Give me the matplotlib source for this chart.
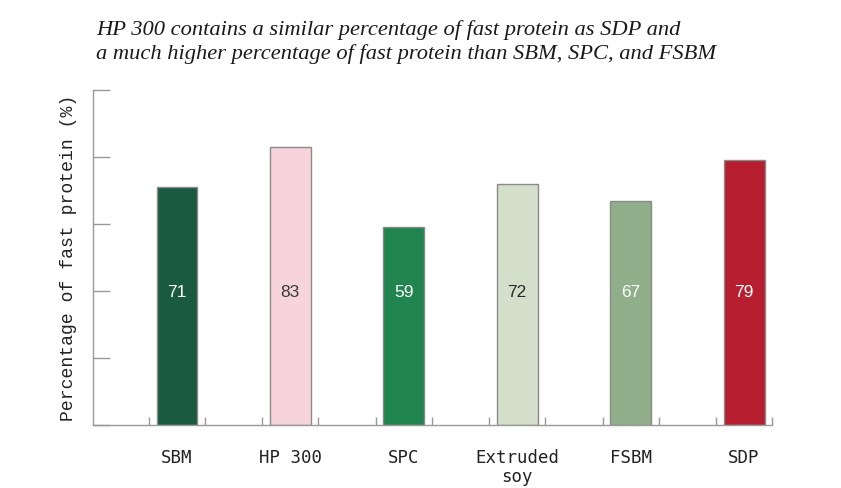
import numpy as np
import matplotlib.pyplot as plt

# data
categories = ['SBM', 'HP 300', 'SPC', 'Extruded\nsoy', 'FSBM', 'SDP']
values = [71, 83, 59, 72, 67, 79]
colors = ['#1a5a41', '#f7d4dc', '#21854f', '#d3dfca', '#8fae89', '#b71f30']
label_colors = ['white', '#3a3a3a', 'white', '#2a2a2a', 'white', 'white']

title = ('HP 300 contains a similar percentage of fast protein as SDP and\n'
         'a much higher percentage of fast protein than SBM, SPC, and FSBM')

fig = plt.figure(figsize=(8.41, 4.88), dpi=100)
ax = fig.add_axes([93/841, 63/488, (772-93)/841, (425-90)/488])

x = np.arange(len(categories))
ax.bar(x, values, width=0.36, color=colors, edgecolor='#8a8a8a', linewidth=1, zorder=2)

# value labels sit at the 40% level inside each bar
for xi, v, c in zip(x, values, label_colors):
    ax.text(xi, 39.5, str(v), ha='center', va='center', color=c,
            fontsize=12.5, family='Liberation Sans', zorder=3)

ax.set_xlim(-0.74, len(categories) - 1 + 0.246)
ax.set_ylim(0, 100)

ax.set_yticks(np.arange(0, 101, 20))
ax.set_yticklabels([])
ax.tick_params(axis='y', direction='in', length=12, width=1, color='#999999')

ax.set_xticks(x)
ax.set_xticklabels(categories, family='DejaVu Sans Mono', fontsize=12.5,
                   color='#222222', linespacing=1.1)
ax.tick_params(axis='x', which='major', length=0, pad=17)
edges = np.concatenate([x - 0.246, x + 0.246])
ax.set_xticks(edges, minor=True)
ax.tick_params(axis='x', which='minor', direction='in', length=6, width=1, color='#999999')

for s in ['top', 'right']:
    ax.spines[s].set_visible(False)
for s in ['left', 'bottom']:
    ax.spines[s].set_color('#999999')
    ax.spines[s].set_linewidth(1)

ax.set_ylabel('Percentage of fast protein (%)', family='Liberation Mono',
              fontsize=13.1, color='#222222', labelpad=8)

fig.text(96/841, 1 - 20/488, title, ha='left', va='top', fontsize=16.2,
         family='Liberation Serif', style='italic', color='#1a1a1a', linespacing=1.3)

fig.savefig('out.png', dpi=100)
